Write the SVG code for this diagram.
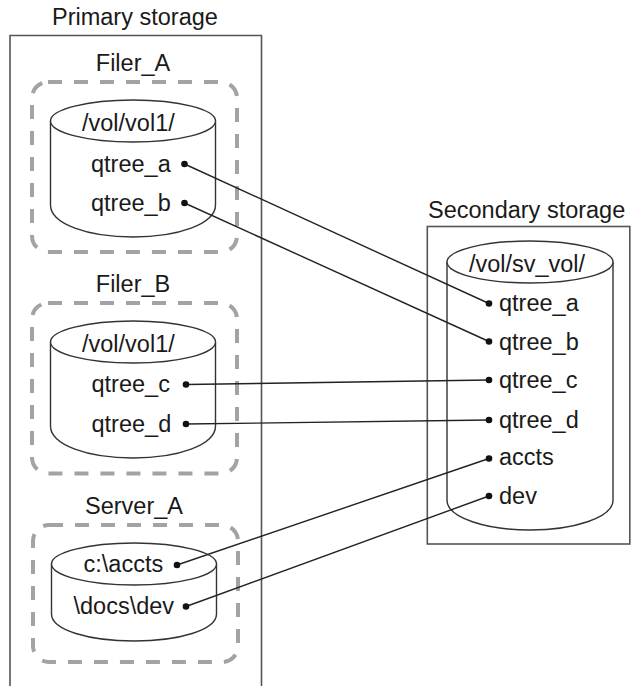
<svg xmlns="http://www.w3.org/2000/svg" width="631" height="686" viewBox="0 0 631 686">
  <style>
    text { font-family: "Liberation Sans", Arial, Helvetica, sans-serif; font-size: 23.5px; fill: #1a1a1a; }
    .frame { fill: none; stroke: #555; stroke-width: 1.6; }
    .group { fill: none; stroke: #a3a3a3; stroke-width: 4; stroke-dasharray: 14 12; }
    .cyl { fill: #fff; stroke: #333; stroke-width: 1.4; }
    .link { fill: none; stroke: #222; stroke-width: 1.4; }
    .dot { fill: #111; }
  </style>

  <!-- Primary storage frame -->
  <g id="primary-storage">
    <text x="52" y="25">Primary storage</text>
    <path class="frame" d="M10,690 V35.5 H261.5 V690"/>
  </g>

  <!-- Filer_A -->
  <g id="filer-a">
    <text x="133" y="70.5" text-anchor="middle">Filer_A</text>
    <rect class="group" x="32" y="82" width="205" height="170" rx="16"/>
    <path class="cyl" d="M50.5,121 V205 C50.5,224 88,237 133,237 C178,237 215.5,224 215.5,205 V121"/>
    <ellipse class="cyl" cx="133" cy="121" rx="82.5" ry="21"/>
    <text x="82" y="131">/vol/vol1/</text>
    <text x="91" y="171.5">qtree_a</text>
    <text x="91" y="210.5">qtree_b</text>
  </g>

  <!-- Filer_B -->
  <g id="filer-b">
    <text x="133" y="291.5" text-anchor="middle">Filer_B</text>
    <rect class="group" x="32" y="303" width="205" height="170.5" rx="16"/>
    <path class="cyl" d="M50.5,342 V426 C50.5,445 88,458 133,458 C178,458 215.5,445 215.5,426 V342"/>
    <ellipse class="cyl" cx="133" cy="342" rx="82.5" ry="21"/>
    <text x="82" y="352">/vol/vol1/</text>
    <text x="91.5" y="392">qtree_c</text>
    <text x="91.5" y="431.5">qtree_d</text>
  </g>

  <!-- Server_A -->
  <g id="server-a">
    <text x="134" y="513.5" text-anchor="middle">Server_A</text>
    <rect class="group" x="33" y="525" width="205" height="137" rx="16"/>
    <path class="cyl" d="M51.5,564 V614 C51.5,630 89,641 134,641 C179,641 216.5,630 216.5,614 V564"/>
    <ellipse class="cyl" cx="134" cy="564" rx="82.5" ry="21"/>
    <text x="83.5" y="572">c:\accts</text>
    <text x="73.5" y="613.5">\docs\dev</text>
  </g>

  <!-- Secondary storage -->
  <g id="secondary-storage">
    <text x="428" y="218">Secondary storage</text>
    <rect class="frame" x="427.3" y="226.5" width="202.5" height="317.5"/>
    <path class="cyl" d="M447,262 V500 C447,518 487,530 530,530 C573,530 613,518 613,500 V262"/>
    <ellipse class="cyl" cx="530" cy="262" rx="83" ry="21"/>
    <text x="527" y="272" text-anchor="middle">/vol/sv_vol/</text>
    <text x="499" y="311">qtree_a</text>
    <text x="499" y="349.5">qtree_b</text>
    <text x="499" y="388">qtree_c</text>
    <text x="499" y="427.5">qtree_d</text>
    <text x="499" y="465">accts</text>
    <text x="499" y="503.5">dev</text>
  </g>

  <!-- Mirror links between primary qtrees and secondary qtrees -->
  <g id="links">
    <path class="link" d="M184.5,164 L489,303.5"/>
    <path class="link" d="M184.5,203 L489,341.5"/>
    <path class="link" d="M186,384.5 L489,380"/>
    <path class="link" d="M186,424 L489,420"/>
    <path class="link" d="M177,565 L489,458.5"/>
    <path class="link" d="M186,606.5 L489,496"/>
    <circle class="dot" cx="184.5" cy="164" r="3.3"/>
    <circle class="dot" cx="184.5" cy="203" r="3.3"/>
    <circle class="dot" cx="186" cy="384.5" r="3.3"/>
    <circle class="dot" cx="186" cy="424" r="3.3"/>
    <circle class="dot" cx="177" cy="565" r="3.3"/>
    <circle class="dot" cx="186" cy="606.5" r="3.3"/>
    <circle class="dot" cx="489" cy="303.5" r="3.3"/>
    <circle class="dot" cx="489" cy="341.5" r="3.3"/>
    <circle class="dot" cx="489" cy="380" r="3.3"/>
    <circle class="dot" cx="489" cy="420" r="3.3"/>
    <circle class="dot" cx="489" cy="458.5" r="3.3"/>
    <circle class="dot" cx="489" cy="496" r="3.3"/>
  </g>
</svg>
